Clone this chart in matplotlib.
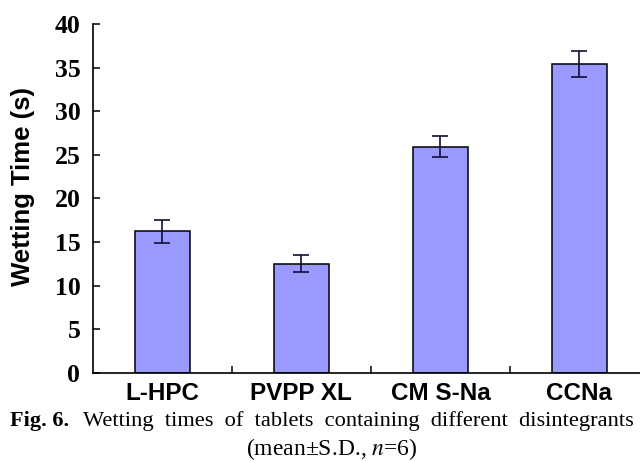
import matplotlib.pyplot as plt
import numpy as np

# data
disintegrants = ["L-HPC", "PVPP XL", "CM S-Na", "CCNa"]
wetting_time = [16.2, 12.5, 25.9, 35.4]
wetting_sd = [1.3, 1.0, 1.2, 1.5]
y_ticks = [0, 5, 10, 15, 20, 25, 30, 35, 40]

sans = "Liberation Sans"
serif = "Liberation Serif"

fig = plt.figure(figsize=(6.4, 4.61), dpi=100)
ax = fig.add_axes([0.145, 0.1915, 0.869, 0.7565])

x = np.arange(len(disintegrants))
ax.bar(x, wetting_time, width=0.4, color="#9999ff", edgecolor="black", linewidth=1.1,
       yerr=wetting_sd, capsize=5.5,
       error_kw=dict(ecolor="#111133", elinewidth=1.2, capthick=1.2))

ax.set_xlim(-0.5, 3.5)
ax.set_ylim(0, 40)
ax.set_yticks(y_ticks)
ax.set_yticklabels([str(v) for v in y_ticks], fontfamily=serif, fontweight="bold", fontsize=18.5)
ax.set_xticks(x)
ax.set_xticklabels(disintegrants, fontfamily=sans, fontweight="bold", fontsize=17.5)
ax.set_xticks(x[:-1] + 0.5, minor=True)
ax.tick_params(axis="x", which="major", length=0, pad=7)
ax.tick_params(axis="x", which="minor", direction="in", length=5, width=1.1)
ax.tick_params(axis="y", direction="in", length=5, width=1.1, pad=9)

ax.set_ylabel("Wetting Time (s)", fontfamily=sans, fontweight="bold", fontsize=18.5)
ax.yaxis.set_label_coords(-0.104, 0.535)

for side in ["top", "right"]:
    ax.spines[side].set_visible(False)
for side in ["left", "bottom"]:
    ax.spines[side].set_linewidth(1.2)

# caption under the chart
fig.text(0.016, 0.076, "Fig. 6.", fontfamily=serif, fontweight="bold", fontsize=16, va="baseline")
fig.text(0.13, 0.076, "Wetting  times  of  tablets  containing  different  disintegrants",
         fontfamily=serif, fontsize=16.1, va="baseline")
fig.text(0.518, 0.013, "(mean±S.D., $n$=6)", fontfamily=serif, fontsize=17, ha="center",
         va="baseline", math_fontfamily="stix")

fig.savefig("out.png", dpi=100)
